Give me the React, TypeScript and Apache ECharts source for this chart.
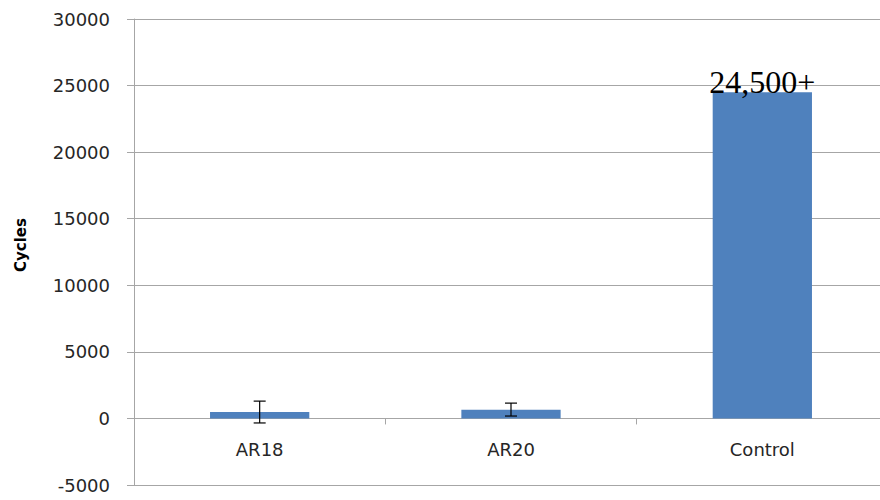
import React, { useEffect, useRef } from "react";
import * as echarts from "echarts";

const categories = ["AR18", "AR20", "Control"];
const cycleValues = [480, 660, 24500];
const errorLow = [-340, 180, 24500];
const errorHigh = [1300, 1150, 24500];
const hasError = [true, true, false];
const barLabels = ["", "", "24,500+"];
const yMin = -5000;
const yMax = 30000;
const yStep = 5000;

export default function App() {
  const ref = useRef<HTMLDivElement>(null);
  useEffect(() => {
    if (!ref.current) return;
    const chart = echarts.init(ref.current, null, { renderer: "svg" });
    const errData = categories
      .map((c, i) => (hasError[i] ? [i, errorLow[i], errorHigh[i]] : null))
      .filter((d) => d !== null);
    chart.setOption({
      animation: false,
      backgroundColor: "#ffffff",
      grid: {
        left: 134,
        right: -8,
        top: 19,
        bottom: 15,
        containLabel: false,
        outerBoundsMode: "none",
      },
      xAxis: {
        type: "category",
        data: categories,
        boundaryGap: true,
        axisLine: { onZero: true, lineStyle: { color: "#a6a6a6", width: 1 } },
        axisTick: { show: true, length: 6, lineStyle: { color: "#a6a6a6" } },
        axisLabel: {
          color: "#262626",
          fontFamily: "DejaVu Sans",
          fontSize: 18,
          margin: -45,
        },
        splitLine: { show: false },
      },
      yAxis: {
        type: "value",
        min: yMin,
        max: yMax,
        interval: yStep,
        name: "Cycles",
        nameLocation: "middle",
        nameGap: 106,
        nameRotate: 90,
        nameTextStyle: {
          color: "#000000",
          fontFamily: "DejaVu Sans",
          fontWeight: "bold",
          fontSize: 15,
          padding: [0, 0, 0, 14],
        },
        axisLine: { show: true, lineStyle: { color: "#a6a6a6", width: 1 } },
        axisTick: { show: true, length: 7, lineStyle: { color: "#a6a6a6" } },
        axisLabel: {
          color: "#262626",
          fontFamily: "DejaVu Sans",
          fontSize: 18,
          margin: 24,
          formatter: (v: number) => String(v),
        },
        splitLine: { show: true, lineStyle: { color: "#a6a6a6", width: 1 } },
      },
      series: [
        {
          type: "bar",
          data: cycleValues.map((v, i) => ({
            value: v,
            label: {
              show: barLabels[i] !== "",
              formatter: barLabels[i],
              position: "top",
              distance: -6,
              color: "#000000",
              fontFamily: "Liberation Serif",
              fontSize: 32,
            },
          })),
          barWidth: "39.5%",
          itemStyle: { color: "#4f81bd" },
        },
        {
          type: "custom",
          data: errData,
          z: 5,
          renderItem: (params: any, api: any) => {
            const x = api.coord([api.value(0), 0])[0];
            const lo = api.coord([api.value(0), api.value(1)])[1];
            const hi = api.coord([api.value(0), api.value(2)])[1];
            const hw = 6;
            const style = { stroke: "#000000", lineWidth: 1.2, fill: "none" };
            return {
              type: "group",
              children: [
                { type: "line", shape: { x1: x, y1: lo, x2: x, y2: hi }, style },
                { type: "line", shape: { x1: x - hw, y1: lo, x2: x + hw, y2: lo }, style },
                { type: "line", shape: { x1: x - hw, y1: hi, x2: x + hw, y2: hi }, style },
              ],
            };
          },
        },
      ],
    });
    return () => chart.dispose();
  }, []);
  return (
    <div
      ref={ref}
      style={{ position: "fixed", left: 0, top: 0, width: 880, height: 500 }}
    />
  );
}
